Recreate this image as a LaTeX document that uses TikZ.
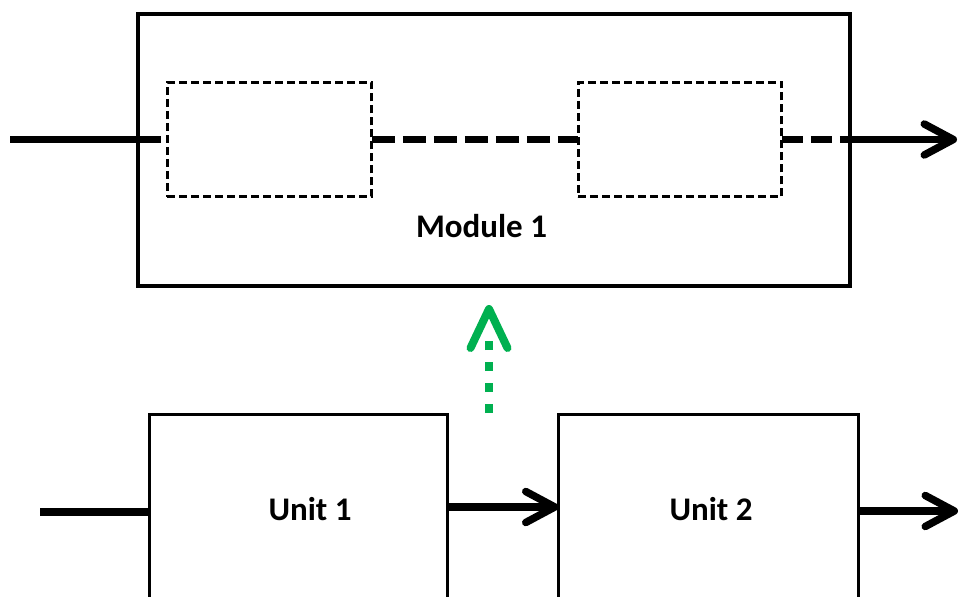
\documentclass[tikz,border=0pt]{standalone}
\usepackage{fontspec}
\setmainfont{Carlito}
\usetikzlibrary{arrows.meta}
\definecolor{arrowgreen}{HTML}{00B050}
\tikzset{
  box/.style={draw=black, line width=3.5pt, rectangle, inner sep=0pt, outer sep=0pt, fill=none},
  innerbox/.style={draw=black, line width=2.8pt, rectangle, inner sep=0pt, outer sep=0pt, dash pattern=on 8pt off 4pt},
  lbl/.style={font=\fontsize{33}{40}\selectfont\bfseries, inner sep=0pt, anchor=base},
  flow/.style={line width=7.5pt},
  dflow/.style={line width=7.5pt, dash pattern=on 23pt off 8pt},
  barb/.style={-{Straight Barb[length=29pt,width=31pt,round]}},
  greenarrow/.style={draw=arrowgreen, line width=8pt,
    dash pattern=on 9pt off 12pt on 9pt off 12pt on 9pt off 12pt on 9pt off 120pt,
    -{Straight Barb[length=39pt,width=37pt,round]}}
}
\begin{document}
\begin{tikzpicture}[x=1pt,y=-1pt]
\useasboundingbox (0,0) rectangle (959,597);
% module
\node[box, minimum width=712pt, minimum height=272pt] (m) at (494,150) {};
\node[innerbox, minimum width=204.5pt, minimum height=114.5pt] (d1) at (269.5,139.5) {};
\node[innerbox, minimum width=203.5pt, minimum height=114.5pt] (d2) at (680,139.5) {};
\node[lbl] (mlbl) at (481.5,237) {Module 1};
\coordinate (tin) at (10,139.5);
\coordinate (mx) at (m.east |- d2.east);
\coordinate (tout) at (957,139.5);
\draw[flow] (tin) -- ([xshift=-6pt]d1.west);
\draw[dflow] (d1.east) -- (d2.west);
\draw[line width=7.5pt, dash pattern=on 21pt off 8pt] (d2.east) -- (mx);
\draw[flow, barb] (mx) -- (tout);
% units
\node[box, minimum width=298pt, minimum height=189pt] (u1) at (298.5,509) {};
\node[box, minimum width=300pt, minimum height=189pt] (u2) at (708.5,509) {};
\node[lbl] (u1lbl) at (310,520) {Unit 1};
\node[lbl] (u2lbl) at (711,520) {Unit 2};
\coordinate (bin) at (40,512);
\coordinate (bout) at (958,511);
\draw[flow] (bin) -- ([yshift=-3pt]u1.west);
\draw[flow, barb] ([yshift=2pt]u1.east) -- ([yshift=2pt]u2.west);
\draw[flow, barb] ([yshift=-2pt]u2.east) -- (bout);
% green arrow
\coordinate (gb) at (489,413);
\coordinate (gt) at (489,305);
\draw[greenarrow] (gb) -- (gt);
\end{tikzpicture}
\end{document}
